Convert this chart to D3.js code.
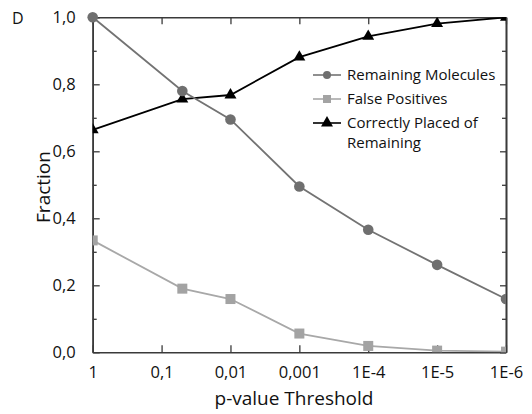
<!DOCTYPE html>
<html>
<head>
<meta charset="utf-8">
<script src="https://cdn.jsdelivr.net/npm/d3@7"></script>
<style>
  html, body { margin: 0; padding: 0; background: #fff; }
  svg { display: block; font-family: "Open Sans", "Noto Sans", sans-serif; }
</style>
</head>
<body>
<svg id="chart" width="532" height="414"></svg>
<script>
// p-value thresholds (x) and the three measured fractions
const thresholds = [1, 0.05, 0.01, 0.001, 1e-4, 1e-5, 1e-6];
const remainingMolecules = [1.0, 0.78, 0.695, 0.495, 0.366, 0.261, 0.159];
const falsePositives = [0.334, 0.19, 0.159, 0.056, 0.019, 0.005, 0.002];
const correctlyPlaced = [0.664, 0.756, 0.768, 0.881, 0.943, 0.981, 1.0];

const xTickValues = [1, 0.1, 0.01, 0.001, 1e-4, 1e-5, 1e-6];
const xTickLabels = ["1", "0,1", "0,01", "0,001", "1E-4", "1E-5", "1E-6"];
const yMajorTicks = [0, 0.2, 0.4, 0.6, 0.8, 1.0];
const yMinorTicks = [0.1, 0.3, 0.5, 0.7, 0.9];

const seriesNames = ["Remaining Molecules", "False Positives", "Correctly Placed of\nRemaining"];

const svg = d3.select("#chart");
const plotLeft = 92.7, plotRight = 506, plotTop = 17.3, plotBottom = 352.3;

const x = d3.scaleLog().domain([1, 1e-6]).range([plotLeft, plotRight]);
const y = d3.scaleLinear().domain([0, 1]).range([plotBottom, plotTop]);

const comma = d3.formatLocale({decimal: ",", thousands: ".", grouping: [3], currency: ["", ""]});
const fmtY = comma.format(".1f");

const axisColor = "#3a3a3a";

// Clip regions: full plot box, and one that only cuts at the right edge
const defs = svg.append("defs");
defs.append("clipPath").attr("id", "plotClip")
  .append("rect").attr("x", plotLeft).attr("y", plotTop)
  .attr("width", plotRight - plotLeft).attr("height", plotBottom - plotTop);
defs.append("clipPath").attr("id", "rightClip")
  .append("rect").attr("x", 0).attr("y", 0).attr("width", plotRight).attr("height", 414);

// Axes: bottom/left carry labels, top/right mirror the inward ticks
const gBottom = svg.append("g").attr("transform", `translate(0,${plotBottom})`)
  .call(d3.axisBottom(x).tickValues(xTickValues).tickSizeInner(-7).tickSizeOuter(0).tickPadding(14)
    .tickFormat((d, i) => xTickLabels[i]));
const gTop = svg.append("g").attr("transform", `translate(0,${plotTop})`)
  .call(d3.axisTop(x).tickValues(xTickValues).tickSizeInner(-7).tickSizeOuter(0).tickFormat(""));
const gLeft = svg.append("g").attr("transform", `translate(${plotLeft},0)`)
  .call(d3.axisLeft(y).tickValues(yMajorTicks).tickSizeInner(-7).tickSizeOuter(0).tickPadding(17)
    .tickFormat(fmtY));
const gLeftMinor = svg.append("g").attr("transform", `translate(${plotLeft},0)`)
  .call(d3.axisLeft(y).tickValues(yMinorTicks).tickSizeInner(-4).tickSizeOuter(0).tickFormat(""));
const gRight = svg.append("g").attr("transform", `translate(${plotRight},0)`)
  .call(d3.axisRight(y).tickValues(yMajorTicks).tickSizeInner(-6).tickSizeOuter(0).tickFormat(""));
const gRightMinor = svg.append("g").attr("transform", `translate(${plotRight},0)`)
  .call(d3.axisRight(y).tickValues(yMinorTicks).tickSizeInner(-4).tickSizeOuter(0).tickFormat(""));

[gBottom, gTop, gLeft, gLeftMinor, gRight, gRightMinor].forEach(g => {
  g.select(".domain").attr("stroke", axisColor).attr("stroke-width", 1.6);
  g.selectAll(".tick line").attr("stroke", axisColor).attr("stroke-width", 1.3);
  g.selectAll(".tick text").attr("fill", "#111").attr("font-size", 16.5)
    .attr("font-family", "'Open Sans', sans-serif");
});
gBottom.selectAll(".tick text").attr("dy", "0.72em");

// Series
const line = d3.line().x(d => x(d[0])).y(d => y(d[1]));
const pts = vals => thresholds.map((t, i) => [t, vals[i]]);

const plot = svg.append("g");

// False positives: light grey squares
const gFP = plot.append("g").attr("clip-path", "url(#plotClip)");
gFP.append("path").datum(pts(falsePositives)).attr("d", line)
  .attr("fill", "none").attr("stroke", "#a8a8a8").attr("stroke-width", 1.8);
gFP.selectAll("rect").data(pts(falsePositives)).join("rect")
  .attr("x", d => x(d[0]) - 5).attr("y", d => y(d[1]) - 5)
  .attr("width", 10).attr("height", 10).attr("fill", "#a3a3a3");

// Correctly placed: black triangles
const tri = d3.symbol().type(d3.symbolTriangle).size(62);
const gCP = plot.append("g").attr("clip-path", "url(#plotClip)");
gCP.append("path").datum(pts(correctlyPlaced)).attr("d", line)
  .attr("fill", "none").attr("stroke", "#000").attr("stroke-width", 1.8);
gCP.selectAll("path.m").data(pts(correctlyPlaced)).join("path").attr("class", "m")
  .attr("d", tri).attr("transform", d => `translate(${x(d[0])},${y(d[1])})`).attr("fill", "#000");

// Remaining molecules: dark grey circles
const gRM = plot.append("g").attr("clip-path", "url(#rightClip)");
gRM.append("path").datum(pts(remainingMolecules)).attr("d", line)
  .attr("fill", "none").attr("stroke", "#737373").attr("stroke-width", 1.8);
gRM.selectAll("circle").data(pts(remainingMolecules)).join("circle")
  .attr("cx", d => x(d[0])).attr("cy", d => y(d[1])).attr("r", 5.3).attr("fill", "#6f6f6f");

// Axis titles and panel letter
svg.append("text").attr("x", 294).attr("y", 405).attr("text-anchor", "middle")
  .attr("font-size", 19).attr("fill", "#111").text("p-value Threshold");
svg.append("text").attr("transform", "translate(50,187) rotate(-90)").attr("text-anchor", "middle")
  .attr("font-size", 19).attr("fill", "#111").text("Fraction");
svg.append("text").attr("x", 12).attr("y", 23.5).attr("font-size", 16).attr("fill", "#111").text("D");

// Legend
const legend = svg.append("g").attr("transform", "translate(313,75)");
const legendStyles = [
  {stroke: "#737373", fill: "#6f6f6f", shape: "circle"},
  {stroke: "#a8a8a8", fill: "#a3a3a3", shape: "square"},
  {stroke: "#000", fill: "#000", shape: "triangle"}
];
seriesNames.forEach((name, i) => {
  const s = legendStyles[i];
  const g = legend.append("g").attr("transform", `translate(0,${i * 24})`);
  g.append("line").attr("x1", 0).attr("x2", 28).attr("y1", 0).attr("y2", 0)
    .attr("stroke", s.stroke).attr("stroke-width", 1.6);
  if (s.shape === "circle") g.append("circle").attr("cx", 14).attr("cy", 0).attr("r", 4).attr("fill", s.fill);
  if (s.shape === "square") g.append("rect").attr("x", 10).attr("y", -4).attr("width", 8).attr("height", 8).attr("fill", s.fill);
  if (s.shape === "triangle") g.append("path").attr("d", d3.symbol().type(d3.symbolTriangle).size(62))
    .attr("transform", "translate(14,0)").attr("fill", s.fill);
  const t = g.append("text").attr("x", 34).attr("y", 0)
    .attr("font-size", 15).attr("fill", "#111");
  name.split("\n").forEach((part, j) => {
    t.append("tspan").attr("x", 34).attr("dy", j === 0 ? "0.35em" : 20).text(part);
  });
});
</script>
</body>
</html>
